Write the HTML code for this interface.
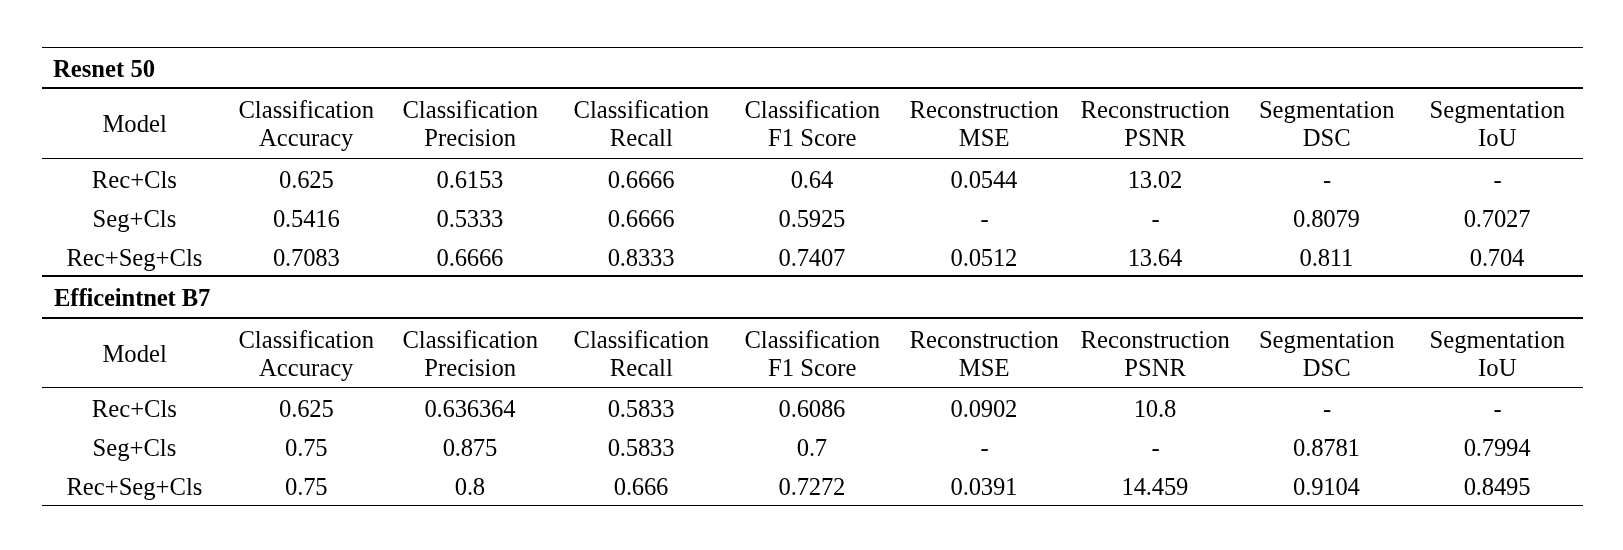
<!DOCTYPE html>
<html><head><meta charset="utf-8"><title>Table</title>
<style>
html,body{margin:0;padding:0;background:#fff}
body{width:1623px;height:550px;position:relative;overflow:hidden;font-family:"Liberation Serif",serif;font-size:24.67px;line-height:27px;color:#000;font-variant-ligatures:none}
.t{position:absolute;width:300px;text-align:center;white-space:nowrap}
.n{letter-spacing:-0.2px}
.h{position:absolute;font-weight:bold;white-space:nowrap}
.wrap{will-change:transform;position:absolute;left:0;top:0;width:1623px;height:550px;background:#fff}
.ln{position:absolute;left:42px;width:1541px;background:#000}
</style></head><body>
<div class="wrap">
<div class="ln" style="top:47px;height:1px"></div>
<div class="ln" style="top:87px;height:2px"></div>
<div class="ln" style="top:158px;height:1px"></div>
<div class="ln" style="top:275px;height:2px"></div>
<div class="h" style="left:53px;top:55.00px">Resnet 50</div>
<div class="t" style="left:-15.40px;top:110.00px">Model</div>
<div class="t" style="left:156.20px;top:96.00px">Classification</div>
<div class="t" style="left:156.20px;top:124.00px">Accuracy</div>
<div class="t" style="left:320.20px;top:96.00px">Classification</div>
<div class="t" style="left:320.20px;top:124.00px">Precision</div>
<div class="t" style="left:491.30px;top:96.00px">Classification</div>
<div class="t" style="left:491.30px;top:124.00px">Recall</div>
<div class="t" style="left:662.20px;top:96.00px">Classification</div>
<div class="t" style="left:662.20px;top:124.00px">F1 Score</div>
<div class="t" style="left:834.20px;top:96.00px">Reconstruction</div>
<div class="t" style="left:834.20px;top:124.00px">MSE</div>
<div class="t" style="left:1005.20px;top:96.00px">Reconstruction</div>
<div class="t" style="left:1005.20px;top:124.00px">PSNR</div>
<div class="t" style="left:1176.70px;top:96.00px">Segmentation</div>
<div class="t" style="left:1176.70px;top:124.00px">DSC</div>
<div class="t" style="left:1347.30px;top:96.00px">Segmentation</div>
<div class="t" style="left:1347.30px;top:124.00px">IoU</div>
<div class="t" style="left:-15.60px;top:166.00px">Rec+Cls</div>
<div class="t n" style="left:156.30px;top:166.00px">0.625</div>
<div class="t n" style="left:319.90px;top:166.00px">0.6153</div>
<div class="t n" style="left:491.00px;top:166.00px">0.6666</div>
<div class="t n" style="left:661.90px;top:166.00px">0.64</div>
<div class="t n" style="left:833.90px;top:166.00px">0.0544</div>
<div class="t n" style="left:1004.90px;top:166.00px">13.02</div>
<div class="t" style="left:1177.00px;top:166.00px">-</div>
<div class="t" style="left:1347.60px;top:166.00px">-</div>
<div class="t" style="left:-15.60px;top:205.00px">Seg+Cls</div>
<div class="t n" style="left:156.30px;top:205.00px">0.5416</div>
<div class="t n" style="left:319.90px;top:205.00px">0.5333</div>
<div class="t n" style="left:491.00px;top:205.00px">0.6666</div>
<div class="t n" style="left:661.90px;top:205.00px">0.5925</div>
<div class="t" style="left:834.50px;top:205.00px">-</div>
<div class="t" style="left:1005.50px;top:205.00px">-</div>
<div class="t n" style="left:1176.40px;top:205.00px">0.8079</div>
<div class="t n" style="left:1347.00px;top:205.00px">0.7027</div>
<div class="t" style="left:-15.60px;top:244.00px">Rec+Seg+Cls</div>
<div class="t n" style="left:156.30px;top:244.00px">0.7083</div>
<div class="t n" style="left:319.90px;top:244.00px">0.6666</div>
<div class="t n" style="left:491.00px;top:244.00px">0.8333</div>
<div class="t n" style="left:661.90px;top:244.00px">0.7407</div>
<div class="t n" style="left:833.90px;top:244.00px">0.0512</div>
<div class="t n" style="left:1004.90px;top:244.00px">13.64</div>
<div class="t n" style="left:1176.40px;top:244.00px">0.811</div>
<div class="t n" style="left:1347.00px;top:244.00px">0.704</div>
<div class="ln" style="top:317px;height:2px"></div>
<div class="ln" style="top:387px;height:1px"></div>
<div class="ln" style="top:505px;height:1px"></div>
<div class="h" style="left:54px;top:284.00px;letter-spacing:-0.13px">Efficeintnet B7</div>
<div class="t" style="left:-15.40px;top:340.00px">Model</div>
<div class="t" style="left:156.20px;top:326.00px">Classification</div>
<div class="t" style="left:156.20px;top:354.00px">Accuracy</div>
<div class="t" style="left:320.20px;top:326.00px">Classification</div>
<div class="t" style="left:320.20px;top:354.00px">Precision</div>
<div class="t" style="left:491.30px;top:326.00px">Classification</div>
<div class="t" style="left:491.30px;top:354.00px">Recall</div>
<div class="t" style="left:662.20px;top:326.00px">Classification</div>
<div class="t" style="left:662.20px;top:354.00px">F1 Score</div>
<div class="t" style="left:834.20px;top:326.00px">Reconstruction</div>
<div class="t" style="left:834.20px;top:354.00px">MSE</div>
<div class="t" style="left:1005.20px;top:326.00px">Reconstruction</div>
<div class="t" style="left:1005.20px;top:354.00px">PSNR</div>
<div class="t" style="left:1176.70px;top:326.00px">Segmentation</div>
<div class="t" style="left:1176.70px;top:354.00px">DSC</div>
<div class="t" style="left:1347.30px;top:326.00px">Segmentation</div>
<div class="t" style="left:1347.30px;top:354.00px">IoU</div>
<div class="t" style="left:-15.60px;top:395.00px">Rec+Cls</div>
<div class="t n" style="left:156.30px;top:395.00px">0.625</div>
<div class="t n" style="left:319.90px;top:395.00px">0.636364</div>
<div class="t n" style="left:491.00px;top:395.00px">0.5833</div>
<div class="t n" style="left:661.90px;top:395.00px">0.6086</div>
<div class="t n" style="left:833.90px;top:395.00px">0.0902</div>
<div class="t n" style="left:1004.90px;top:395.00px">10.8</div>
<div class="t" style="left:1177.00px;top:395.00px">-</div>
<div class="t" style="left:1347.60px;top:395.00px">-</div>
<div class="t" style="left:-15.60px;top:434.00px">Seg+Cls</div>
<div class="t n" style="left:156.30px;top:434.00px">0.75</div>
<div class="t n" style="left:319.90px;top:434.00px">0.875</div>
<div class="t n" style="left:491.00px;top:434.00px">0.5833</div>
<div class="t n" style="left:661.90px;top:434.00px">0.7</div>
<div class="t" style="left:834.50px;top:434.00px">-</div>
<div class="t" style="left:1005.50px;top:434.00px">-</div>
<div class="t n" style="left:1176.40px;top:434.00px">0.8781</div>
<div class="t n" style="left:1347.00px;top:434.00px">0.7994</div>
<div class="t" style="left:-15.60px;top:473.00px">Rec+Seg+Cls</div>
<div class="t n" style="left:156.30px;top:473.00px">0.75</div>
<div class="t n" style="left:319.90px;top:473.00px">0.8</div>
<div class="t n" style="left:491.00px;top:473.00px">0.666</div>
<div class="t n" style="left:661.90px;top:473.00px">0.7272</div>
<div class="t n" style="left:833.90px;top:473.00px">0.0391</div>
<div class="t n" style="left:1004.90px;top:473.00px">14.459</div>
<div class="t n" style="left:1176.40px;top:473.00px">0.9104</div>
<div class="t n" style="left:1347.00px;top:473.00px">0.8495</div>
</div>
</body></html>
